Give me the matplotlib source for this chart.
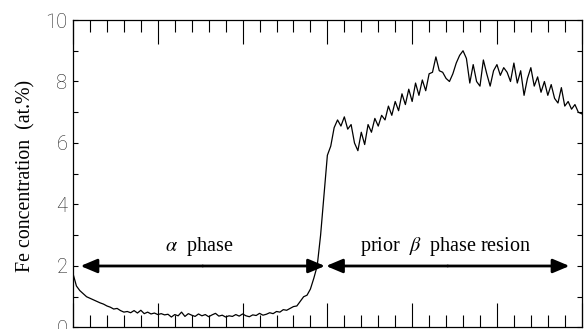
#!/usr/bin/env python
# Fe concentration profile across the alpha / prior beta boundary

import numpy as np
import matplotlib.pyplot as plt
from matplotlib.ticker import MultipleLocator

# Distance along the line scan (arbitrary units, 0.2 step) and Fe content (at.%)
distance = np.arange(151) * 0.2
fe_conc = [
    1.75, 1.35, 1.20, 1.10, 1.00, 0.95, 0.90, 0.85, 0.80, 0.76,
    0.70, 0.66, 0.60, 0.62, 0.55, 0.50, 0.52, 0.48, 0.55, 0.47,
    0.56, 0.45, 0.50, 0.44, 0.47, 0.42, 0.45, 0.41, 0.43, 0.34,
    0.42, 0.38, 0.50, 0.36, 0.45, 0.40, 0.36, 0.44, 0.38, 0.42,
    0.35, 0.41, 0.46, 0.37, 0.40, 0.34, 0.38, 0.36, 0.42, 0.37,
    0.44, 0.38, 0.35, 0.41, 0.39, 0.46, 0.40, 0.43, 0.48, 0.45,
    0.52, 0.50, 0.58, 0.56, 0.62, 0.68, 0.70, 0.85, 1.00, 1.05,
    1.25, 1.60, 2.00, 3.00, 4.30, 5.60, 5.90, 6.50, 6.75, 6.55,
    6.85, 6.45, 6.60, 6.00, 5.75, 6.35, 5.95, 6.60, 6.35, 6.80,
    6.55, 6.90, 6.75, 7.20, 6.90, 7.35, 7.05, 7.60, 7.25, 7.75,
    7.35, 7.95, 7.55, 8.05, 7.70, 8.25, 8.30, 8.80, 8.35, 8.30,
    8.10, 8.00, 8.25, 8.60, 8.85, 9.00, 8.75, 7.95, 8.55, 8.00,
    7.85, 8.70, 8.25, 7.85, 8.35, 8.55, 8.20, 8.45, 8.30, 8.00,
    8.60, 7.95, 8.35, 7.55, 8.10, 8.45, 7.85, 8.15, 7.65, 8.00,
    7.55, 7.90, 7.45, 7.30, 7.80, 7.20, 7.35, 7.10, 7.25, 7.00,
    6.95,
]

# Phase regions (start, end) along the scan and their labels
alpha_span = (0.44, 14.86)
beta_span = (14.92, 29.28)
arrow_level = 2.0
alpha_label = r"$\alpha$  phase"
beta_label = r"prior  $\beta$  phase resion"

y_ticks = [0, 2, 4, 6, 8, 10]

plt.rcParams['mathtext.fontset'] = 'stix'

fig = plt.figure(figsize=(5.87, 3.29), dpi=100)
ax = fig.add_axes([0.1244, 0.0046, 0.8666, 0.9346])

ax.plot(distance, fe_conc, color='black', lw=0.9)

# double-headed arrows for the two regions
arrow_style = dict(arrowstyle='-|>,head_length=1.0,head_width=0.42',
                   mutation_scale=10, color='black', lw=2.0,
                   shrinkA=0, shrinkB=0)
for span in (alpha_span, beta_span):
    mid = (span[0] + span[1]) / 2
    ax.annotate('', xy=(span[0], arrow_level), xytext=(mid, arrow_level),
                arrowprops=arrow_style)
    ax.annotate('', xy=(span[1], arrow_level), xytext=(mid, arrow_level),
                arrowprops=arrow_style)

ax.text(7.43, 2.63, alpha_label, ha='center', va='center',
        fontsize=14.5, family='Liberation Serif')
ax.text(22.0, 2.63, beta_label, ha='center', va='center',
        fontsize=14.5, family='Liberation Serif')

ax.set_xlim(0, 30)
ax.set_ylim(0, 10)
ax.xaxis.set_major_locator(MultipleLocator(5))
ax.xaxis.set_minor_locator(MultipleLocator(1))
ax.yaxis.set_major_locator(MultipleLocator(2))
ax.yaxis.set_minor_locator(MultipleLocator(1))
ax.set_yticks(y_ticks)

ax.tick_params(axis='x', which='both', direction='in', top=True, bottom=True,
               labelbottom=False, width=0.8, color='black')
ax.tick_params(axis='x', which='major', length=17)
ax.tick_params(axis='x', which='minor', length=8.5)
ax.tick_params(axis='y', which='both', direction='in', left=True, right=True,
               length=3.6, width=0.8)
ax.tick_params(axis='y', which='major', pad=4, labelsize=14.5,
               labelcolor='#222222')
for lab in ax.get_yticklabels():
    lab.set_family('Roboto')
    lab.set_fontweight('light')

for sp in ax.spines.values():
    sp.set_linewidth(0.9)

fig.text(0.044, 0.464, 'Fe concentration  (at.%)', rotation=90,
         ha='center', va='center', fontsize=14.3, family='Liberation Serif')

fig.savefig('out.png', dpi=100)
